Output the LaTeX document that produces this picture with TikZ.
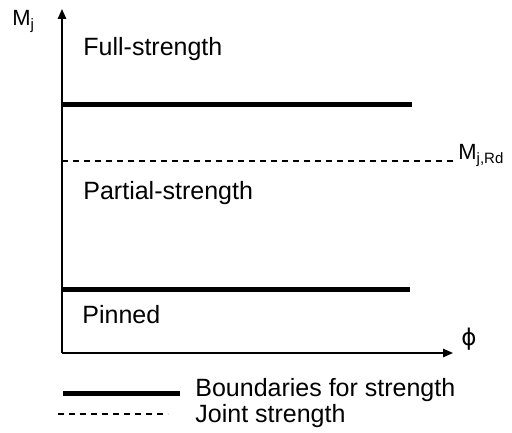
\documentclass[tikz,border=0pt]{standalone}
\usepackage{fontspec}
\setmainfont{Liberation Sans}
\newfontfamily\greekfont{DejaVu Sans}
\usetikzlibrary{arrows.meta}
\tikzset{
  axis/.style={line width=0.75pt,-{Triangle[length=5pt,width=4.2pt]}},
  boundary/.style={line width=2.5pt},
  jointline/.style={line width=0.55pt,dash pattern=on 3pt off 2.5pt},
  lbl/.style={inner sep=0pt,anchor=base west,font=\fontsize{12.5pt}{15pt}\selectfont},
  sym/.style={inner sep=0pt,anchor=base west,font=\fontsize{11pt}{13pt}\selectfont}
}
\newcommand{\subtxt}[1]{\raisebox{-0.3ex}{\fontsize{7.5pt}{9pt}\selectfont #1}}
\begin{document}
\begin{tikzpicture}[x=0.5pt,y=-0.5pt]
  \useasboundingbox (0,0) rectangle (512,432);
  % axes
  \coordinate (O) at (62,353);
  \coordinate (ytip) at (62,9);
  \coordinate (xtip) at (453,353);
  \draw[axis] (O) -- (ytip);
  \draw[axis] (O) -- (xtip);
  \node[sym] (mj) at (12,26) {M\subtxt{j}};
  \node[anchor=center,inner sep=0pt,font=\greekfont\fontsize{11.5pt}{13pt}\selectfont] (phi) at (469,339) {ϕ};
  % strength boundaries
  \coordinate (b1a) at (62,105);
  \coordinate (b1b) at (412,105);
  \coordinate (b2a) at (62,289);
  \coordinate (b2b) at (410,289);
  \draw[boundary] (b1a) -- (b1b);
  \draw[boundary] (b2a) -- (b2b);
  % joint strength
  \coordinate (ja) at (62,161);
  \coordinate (jb) at (455,161);
  \draw[jointline] (ja) -- (jb);
  \node[sym] (mjrd) at (458,160) {M\subtxt{j,Rd}};
  % zone labels
  \node[lbl] (full) at (83,56) {Full-strength};
  \node[lbl] (partial) at (83,199) {Partial-strength};
  \node[lbl] (pinned) at (82,323) {Pinned};
  % legend
  \coordinate (l1a) at (63,393);
  \coordinate (l1b) at (180,393);
  \draw[boundary] (l1a) -- (l1b);
  \node[lbl] (leg1) at (195,396) {Boundaries for strength};
  \coordinate (l2a) at (58,414);
  \coordinate (l2b) at (168,414);
  \draw[jointline] (l2a) -- (l2b);
  \node[lbl] (leg2) at (195,422) {Joint strength};
\end{tikzpicture}
\end{document}
